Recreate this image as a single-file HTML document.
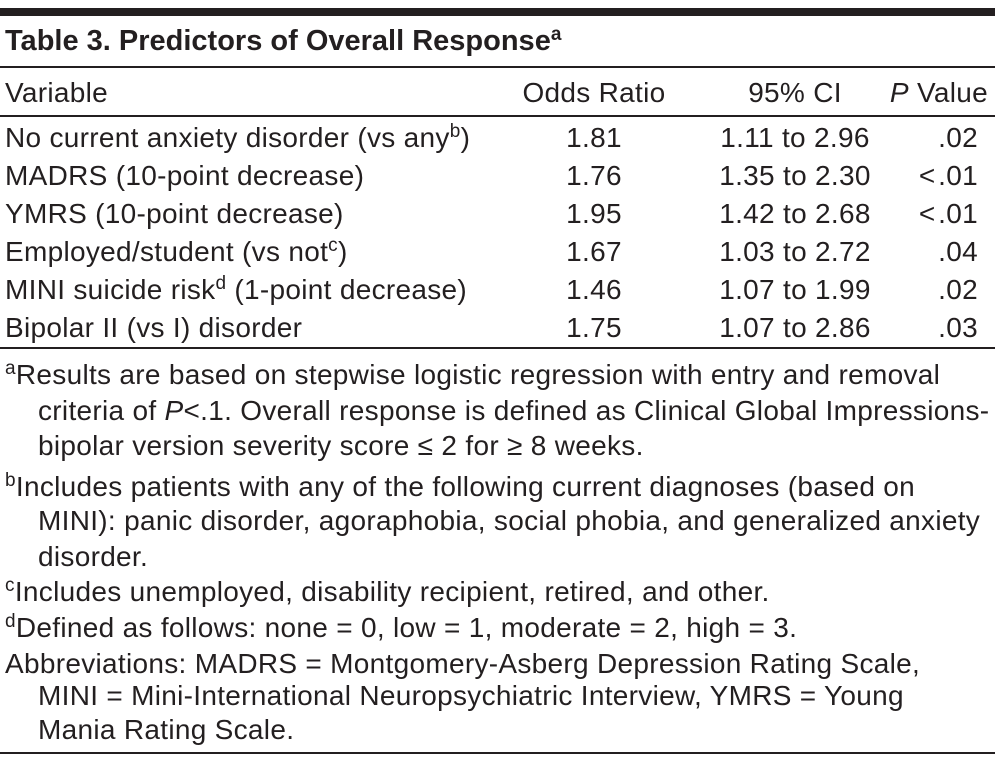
<!DOCTYPE html>
<html><head><meta charset="utf-8"><style>
body{margin:0;width:995px;height:765px;background:#fff;position:relative;overflow:hidden;font-family:"Liberation Sans",sans-serif;color:#231f20}
.t{position:absolute;white-space:nowrap;font-size:28px;line-height:30px;letter-spacing:0.3px}
.ln{position:absolute;left:0;width:995px;background:#231f20}
sup{font-size:19px;vertical-align:10px;line-height:0}
.c{text-align:center;width:200px}
.r{text-align:right;width:150px}
</style></head><body>
<div class="ln" style="top:8px;height:8px"></div>
<div class="t" style="left:5px;top:24px;font-size:29px;font-weight:bold;line-height:34px;letter-spacing:0">Table 3. Predictors of Overall Response<sup>a</sup></div>
<div class="ln" style="top:66px;height:2px"></div>
<div class="t" style="left:5px;top:78px">Variable</div>
<div class="t c" style="left:494px;top:78px">Odds Ratio</div>
<div class="t c" style="left:695px;top:78px">95% CI</div>
<div class="t r" style="left:838px;top:78px"><i>P</i> Value</div>
<div class="ln" style="top:115px;height:2px"></div>
<div id="rows"></div>
<div class="ln" style="top:347px;height:2px"></div>
<div class="t" style="left:5px;top:360px"><sup>a</sup>Results are based on stepwise logistic regression with entry and removal</div>
<div class="t" style="left:38px;top:396px">criteria of <i>P</i>&lt;.1. Overall response is defined as Clinical Global Impressions-</div>
<div class="t" style="left:38px;top:431px">bipolar version severity score ≤ 2 for ≥ 8 weeks.</div>
<div class="t" style="left:5px;top:472px"><sup>b</sup>Includes patients with any of the following current diagnoses (based on</div>
<div class="t" style="left:38px;top:506px">MINI): panic disorder, agoraphobia, social phobia, and generalized anxiety</div>
<div class="t" style="left:38px;top:542px">disorder.</div>
<div class="t" style="left:5px;top:577px"><sup>c</sup>Includes unemployed, disability recipient, retired, and other.</div>
<div class="t" style="left:5px;top:613px"><sup>d</sup>Defined as follows: none = 0, low = 1, moderate = 2, high = 3.</div>
<div class="t" style="left:5px;top:649px">Abbreviations: MADRS = Montgomery-Asberg Depression Rating Scale,</div>
<div class="t" style="left:38px;top:681px">MINI = Mini-International Neuropsychiatric Interview, YMRS = Young</div>
<div class="t" style="left:38px;top:715px">Mania Rating Scale.</div>
<div class="ln" style="top:752px;height:2px"></div>
<script>
const variables=["No current anxiety disorder (vs any<sup>b</sup>)","MADRS (10-point decrease)","YMRS (10-point decrease)","Employed/student (vs not<sup>c</sup>)","MINI suicide risk<sup>d</sup> (1-point decrease)","Bipolar II (vs I) disorder"];
const oddsRatios=["1.81","1.76","1.95","1.67","1.46","1.75"];
const cis=["1.11 to 2.96","1.35 to 2.30","1.42 to 2.68","1.03 to 2.72","1.07 to 1.99","1.07 to 2.86"];
const pvals=[".02","<\u200a.01","<\u200a.01",".04",".02",".03"];
const rows=document.getElementById('rows');
variables.forEach((v,i)=>{
  const top=123+i*38;
  const a=document.createElement('div');a.className='t';a.style.left='5px';a.style.top=top+'px';a.innerHTML=v;
  
  
  const b=document.createElement('div');b.className='t c';b.style.left='494px';b.style.top=top+'px';b.textContent=oddsRatios[i];
  
  
  const c=document.createElement('div');c.className='t c';c.style.left='695px';c.style.top=top+'px';c.textContent=cis[i];
  
  
  const d=document.createElement('div');d.className='t r';d.style.left='828px';d.style.top=top+'px';d.textContent=pvals[i];
  
  
  rows.append(a,b,c,d);
});
</script>
</body></html>
